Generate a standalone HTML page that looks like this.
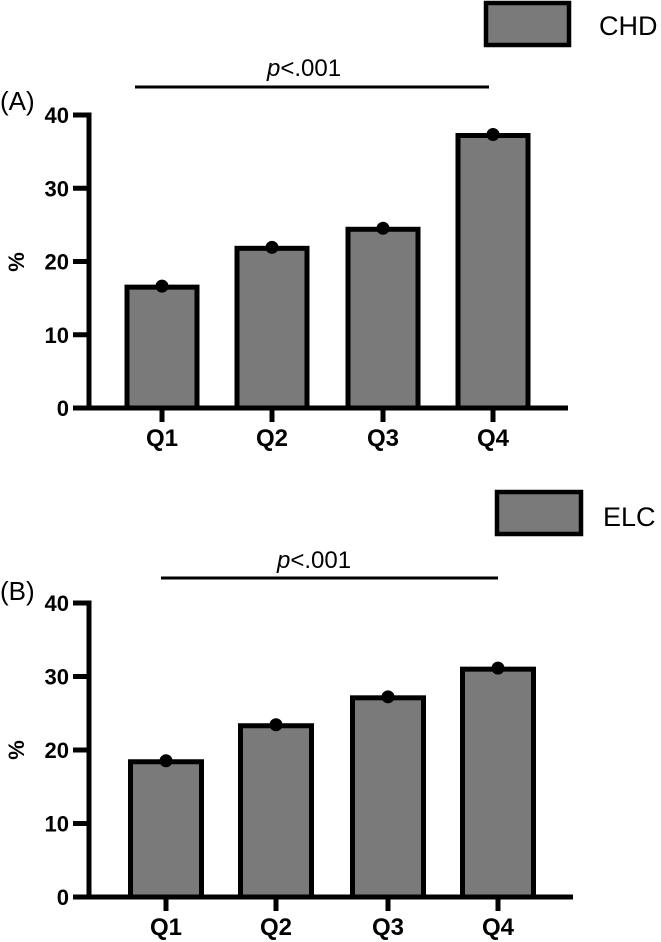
<!DOCTYPE html>
<html><head><meta charset="utf-8"><style>
html,body{margin:0;padding:0;background:#fff;}
svg{display:block;font-family:"Liberation Sans",Arial,sans-serif;}
</style></head><body>
<svg id="chart" width="661" height="942" viewBox="0 0 661 942"></svg>
<script>
const categories = ["Q1","Q2","Q3","Q4"];
const chdValues = [16.5, 21.8, 24.4, 37.2];
const elcValues = [18.4, 23.3, 27.1, 31.0];
const yTicks = [0, 10, 20, 30, 40];
const panelLabels = ["(A)", "(B)"];
const legendLabels = ["CHD", "ELC"];
const pText = "<.001";

const NS = "http://www.w3.org/2000/svg";
const svg = document.getElementById("chart");
function mk(tag, attrs, parent) {
  const e = document.createElementNS(NS, tag);
  for (const k in attrs) e.setAttribute(k, attrs[k]);
  (parent || svg).appendChild(e);
  return e;
}

const panels = [
  {vals: chdValues, y0: 408, y40: 115, axX: 89, axEnd: 568, centers: [162,272,383,493], barW: 70,
   leg: {x:486,y:3,w:83,h:42,tx:599,ty:35}, pline:{x1:135,x2:489,y:87}, ptext:{x:304,y:76}, lab:{x:0,y:108}, pct:{x:17,y:262}, qy:446},
  {vals: elcValues, y0: 897, y40: 603, axX: 89, axEnd: 573, centers: [166,276,388,498], barW: 71,
   leg: {x:497,y:492,w:84,h:42,tx:603,ty:526}, pline:{x1:161,x2:498,y:578}, ptext:{x:314,y:568}, lab:{x:0,y:598}, pct:{x:17,y:750}, qy:935}
];

panels.forEach((p, pi) => {
  const g = mk("g", {});
  
  
  const yScale = v => p.y0 - (v / 40) * (p.y0 - p.y40);

  p.vals.forEach((v, i) => {
    const cx = p.centers[i];
    const r = mk("rect", {x: cx - p.barW/2, y: yScale(v), width: p.barW, height: p.y0 - yScale(v),
      fill: "#7a7a7a", stroke: "#000", "stroke-width": 5}, g);
    
    
    const d = mk("circle", {cx: cx, cy: yScale(v) - 1, r: 6.5, fill: "#000"}, g);
    
    
    const t = mk("line", {x1: cx, x2: cx, y1: p.y0, y2: p.y0 + 14, stroke: "#000", "stroke-width": 5}, g);
    
    
    const lt = mk("text", {x: cx, y: p.qy, "text-anchor": "middle", "font-size": 24, "font-weight": "bold"}, g);
    lt.textContent = categories[i];
    
    
  });

  const ya = mk("line", {x1: p.axX, x2: p.axX, y1: p.y40 - 2.5, y2: p.y0 + 2.5, stroke: "#000", "stroke-width": 5}, g);
  
  
  const xa = mk("line", {x1: p.axX - 2.5, x2: p.axEnd, y1: p.y0, y2: p.y0, stroke: "#000", "stroke-width": 5}, g);
  
  

  yTicks.forEach(v => {
    const y = yScale(v);
    const tk = mk("line", {x1: p.axX - 16, x2: p.axX, y1: y, y2: y, stroke: "#000", "stroke-width": 5}, g);
    
    
    const tl = mk("text", {x: 69, y: y + 8, "text-anchor": "end", "font-size": 22, "font-weight": "bold"}, g);
    tl.textContent = v;
    
    
  });

  const pc = mk("text", {x: 0, y: 0, "text-anchor": "middle", "font-size": 22, "font-weight": "bold",
    transform: `translate(${p.pct.x + 7},${p.pct.y}) rotate(-90)`}, g);
  pc.textContent = "%";
  
  

  const pl = mk("text", {x: p.lab.x, y: p.lab.y + 2, "font-size": 26}, g);
  pl.textContent = panelLabels[pi];
  
  

  const lb = mk("rect", {x: p.leg.x, y: p.leg.y, width: p.leg.w, height: p.leg.h, fill: "#7a7a7a", stroke: "#000", "stroke-width": 4.5}, g);
  
  
  const lt = mk("text", {x: p.leg.tx, y: p.leg.ty, "font-size": 27}, g);
  lt.textContent = legendLabels[pi];
  
  

  const sl = mk("line", {x1: p.pline.x1, x2: p.pline.x2, y1: p.pline.y, y2: p.pline.y, stroke: "#000", "stroke-width": 3}, g);
  
  
  const st = mk("text", {x: p.ptext.x, y: p.ptext.y, "text-anchor": "middle", "font-size": 24}, g);
  const ti = mk("tspan", {"font-style": "italic"}, st);
  ti.textContent = "p";
  const tr = mk("tspan", {}, st);
  tr.textContent = pText;
  
  
});
</script>
</body></html>
